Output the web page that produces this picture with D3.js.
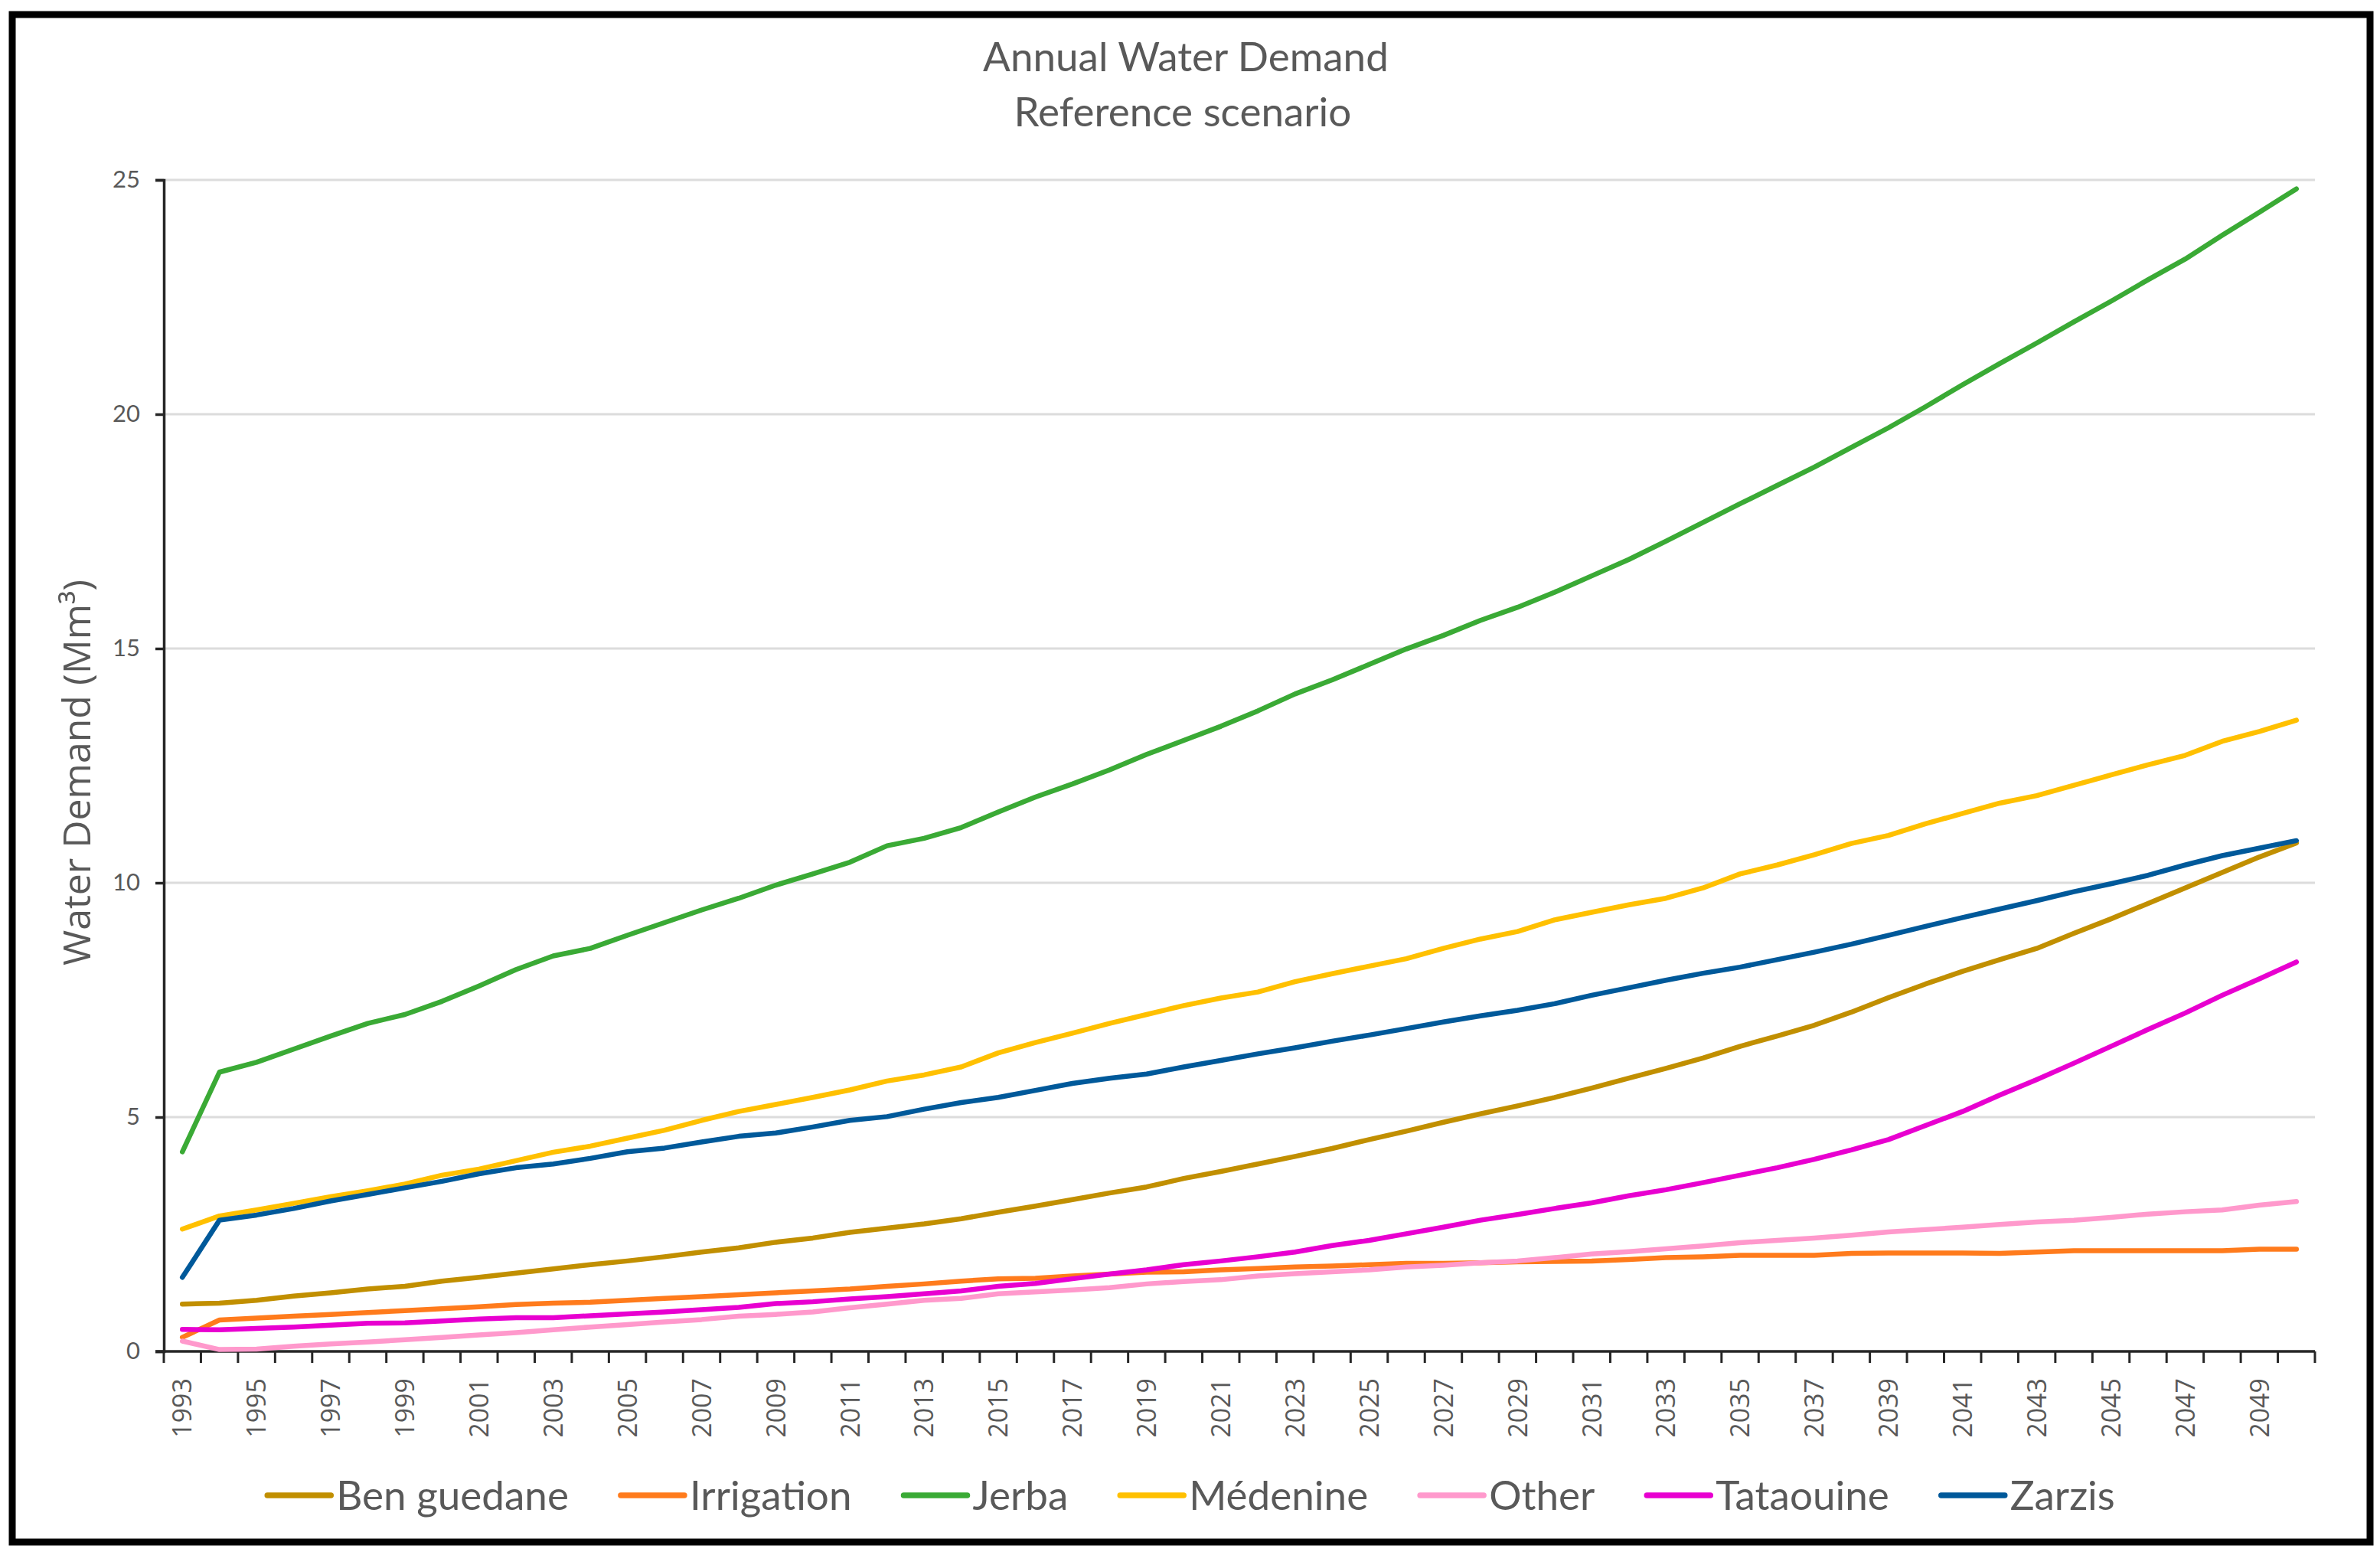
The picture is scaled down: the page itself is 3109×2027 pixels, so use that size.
<!DOCTYPE html>
<html>
<head>
<meta charset="utf-8">
<script src="https://cdn.jsdelivr.net/npm/d3@7"></script>
<style>
  html, body { margin: 0; padding: 0; background: #ffffff; }
  svg { display: block; }
</style>
</head>
<body>
<script>
// ---------------- DATA ----------------
const years = [1993,1994,1995,1996,1997,1998,1999,2000,2001,2002,
  2003,2004,2005,2006,2007,2008,2009,2010,2011,2012,
  2013,2014,2015,2016,2017,2018,2019,2020,2021,2022,
  2023,2024,2025,2026,2027,2028,2029,2030,2031,2032,
  2033,2034,2035,2036,2037,2038,2039,2040,2041,2042,
  2043,2044,2045,2046,2047,2048,2049,2050];

const seriesNames = ["Ben guedane","Irrigation","Jerba","Médenine","Other","Tataouine","Zarzis"];
const seriesColors = ["#C18F00","#FF7B1C","#3AAA35","#FFC000","#FF99CC","#E800D0","#00599A"];

const benGuedane = [1.01,1.03,1.09,1.18,1.25,1.33,1.39,1.50,1.58,1.67,
  1.76,1.85,1.93,2.02,2.12,2.21,2.33,2.42,2.54,2.63,
  2.72,2.83,2.97,3.10,3.24,3.38,3.51,3.69,3.84,4.00,
  4.16,4.33,4.52,4.70,4.89,5.07,5.24,5.42,5.62,5.83,
  6.04,6.26,6.51,6.73,6.96,7.24,7.55,7.84,8.11,8.36,
  8.60,8.92,9.23,9.56,9.89,10.22,10.55,10.85];
const irrigation = [0.30,0.67,0.71,0.75,0.79,0.83,0.87,0.91,0.95,1.00,
  1.03,1.05,1.09,1.13,1.17,1.21,1.25,1.29,1.33,1.39,
  1.44,1.50,1.55,1.56,1.61,1.65,1.69,1.70,1.74,1.77,
  1.80,1.82,1.85,1.88,1.88,1.89,1.91,1.92,1.93,1.96,
  2.00,2.02,2.05,2.05,2.05,2.09,2.10,2.10,2.10,2.09,
  2.12,2.15,2.15,2.15,2.15,2.15,2.18,2.18];
const jerba = [4.26,5.96,6.17,6.45,6.73,7.00,7.19,7.47,7.80,8.15,
  8.44,8.60,8.88,9.15,9.42,9.67,9.95,10.19,10.44,10.79,
  10.95,11.18,11.51,11.83,12.11,12.41,12.74,13.04,13.34,13.67,
  14.03,14.33,14.66,14.99,15.28,15.60,15.88,16.20,16.55,16.90,
  17.29,17.69,18.09,18.48,18.87,19.29,19.71,20.16,20.63,21.08,
  21.52,21.97,22.41,22.87,23.31,23.82,24.31,24.81];
const medenine = [2.61,2.89,3.02,3.16,3.30,3.43,3.57,3.76,3.89,4.07,
  4.25,4.38,4.55,4.72,4.93,5.12,5.27,5.42,5.58,5.77,
  5.90,6.07,6.37,6.59,6.79,7.00,7.19,7.38,7.54,7.67,
  7.89,8.06,8.22,8.38,8.60,8.80,8.96,9.21,9.37,9.53,
  9.67,9.89,10.19,10.38,10.60,10.84,11.01,11.26,11.48,11.70,
  11.86,12.08,12.30,12.52,12.72,13.02,13.23,13.47];
const other = [0.22,0.04,0.05,0.11,0.16,0.20,0.25,0.30,0.35,0.40,
  0.46,0.52,0.57,0.63,0.68,0.75,0.79,0.84,0.93,1.01,
  1.09,1.13,1.23,1.27,1.31,1.36,1.44,1.49,1.53,1.61,
  1.66,1.70,1.74,1.80,1.84,1.89,1.93,2.00,2.08,2.13,
  2.19,2.25,2.32,2.37,2.42,2.48,2.55,2.60,2.65,2.71,
  2.76,2.80,2.86,2.93,2.98,3.02,3.12,3.20];
const tataouine = [0.47,0.46,0.49,0.52,0.56,0.60,0.61,0.65,0.69,0.72,
  0.72,0.76,0.80,0.84,0.89,0.94,1.02,1.06,1.12,1.17,
  1.23,1.29,1.39,1.45,1.55,1.65,1.74,1.85,1.93,2.02,
  2.12,2.26,2.37,2.51,2.65,2.80,2.92,3.05,3.17,3.32,
  3.45,3.60,3.76,3.92,4.10,4.30,4.52,4.82,5.12,5.47,
  5.80,6.15,6.51,6.87,7.22,7.60,7.95,8.31];
const zarzis = [1.58,2.80,2.91,3.05,3.21,3.35,3.49,3.63,3.79,3.92,
  4.00,4.12,4.26,4.34,4.47,4.59,4.66,4.79,4.93,5.01,
  5.17,5.31,5.42,5.57,5.72,5.83,5.92,6.07,6.21,6.35,
  6.48,6.62,6.75,6.89,7.03,7.16,7.28,7.42,7.60,7.76,
  7.92,8.07,8.20,8.36,8.52,8.69,8.88,9.07,9.26,9.44,
  9.62,9.81,9.98,10.16,10.38,10.58,10.74,10.90];

const yTicks = [0,5,10,15,20,25];
const titleLines = ["Annual Water Demand","Reference scenario"];
const yTitle = "Water Demand (Mm³)";

const seriesValues = [benGuedane, irrigation, jerba, medenine, other, tataouine, zarzis];

// ---------------- LAYOUT ----------------
const W = 3109, H = 2027;
const plot = {left: 214, right: 3024, top: 235, bottom: 1765};
const textGrey = "#595959";
const font = "Lato, 'Open Sans', sans-serif";
const font2 = "'Open Sans', 'DejaVu Sans', sans-serif";

const svg = d3.select("body").append("svg")
  .attr("width", W).attr("height", H)
  .attr("viewBox", `0 0 ${W} ${H}`);

svg.append("rect").attr("x", 0).attr("y", 0).attr("width", W).attr("height", H).attr("fill", "#fff");

// outer frame
svg.append("rect")
  .attr("x", 16).attr("y", 19).attr("width", 3080).attr("height", 1995)
  .attr("fill", "none").attr("stroke", "#000").attr("stroke-width", 9);

// scales
const x = d3.scaleBand().domain(years).range([plot.left, plot.right]).padding(0);
const y = d3.scaleLinear().domain([0, 25]).range([plot.bottom, plot.top]);
const cx = d => x(d) + x.bandwidth() / 2;

// title
svg.append("text")
  .attr("x", 1549).attr("y", 93)
  .attr("text-anchor", "middle")
  .attr("font-family", font).attr("font-size", 53)
  .attr("fill", textGrey)
  .text(titleLines[0]);
svg.append("text")
  .attr("x", 1545).attr("y", 165)
  .attr("text-anchor", "middle")
  .attr("font-family", font).attr("font-size", 53)
  .attr("fill", textGrey)
  .text(titleLines[1]);

// gridlines
svg.append("g").selectAll("line").data(yTicks.filter(t => t > 0)).join("line")
  .attr("x1", plot.left).attr("x2", plot.right)
  .attr("y1", d => y(d)).attr("y2", d => y(d))
  .attr("stroke", "#dcdcdc").attr("stroke-width", 3);

// y axis
const yAxis = svg.append("g")
  .attr("transform", `translate(${plot.left},0)`)
  .call(d3.axisLeft(y).tickValues(yTicks).tickSize(11).tickPadding(20).tickFormat(d3.format("d")));
yAxis.select(".domain").attr("stroke", "#262626").attr("stroke-width", 3.5);
yAxis.selectAll(".tick line").attr("stroke", "#262626").attr("stroke-width", 3.5);
yAxis.selectAll(".tick text")
  .attr("font-family", font).attr("font-size", 31).attr("fill", textGrey);

// y title
svg.append("text")
  .attr("transform", "translate(118,1009) rotate(-90)")
  .attr("text-anchor", "middle")
  .attr("font-family", font2).attr("font-size", 50)
  .attr("fill", textGrey)
  .text(yTitle);

// x axis
const xAxisG = svg.append("g");
xAxisG.append("line")
  .attr("x1", plot.left - 11).attr("x2", plot.right)
  .attr("y1", plot.bottom).attr("y2", plot.bottom)
  .attr("stroke", "#262626").attr("stroke-width", 3.5);
const boundaries = years.map(d => x(d)).concat([x(years[years.length - 1]) + x.bandwidth()]);
xAxisG.selectAll("line.tick").data(boundaries).join("line")
  .attr("class", "tick")
  .attr("x1", d => d).attr("x2", d => d)
  .attr("y1", plot.bottom).attr("y2", plot.bottom + 15)
  .attr("stroke", "#262626").attr("stroke-width", 3);
xAxisG.selectAll("text").data(years.filter((d, i) => i % 2 === 0)).join("text")
  .attr("transform", d => `translate(${cx(d)},${plot.bottom + 35}) rotate(-90)`)
  .attr("text-anchor", "end")
  .attr("dy", "0.36em")
  .attr("font-family", font2).attr("font-size", 34)
  .attr("fill", textGrey)
  .text(d => d);

// lines
const line = d3.line()
  .x((d, i) => cx(years[i]))
  .y(d => y(d));
svg.append("g").selectAll("path").data(seriesValues).join("path")
  .attr("d", d => line(d))
  .attr("fill", "none")
  .attr("stroke", (d, i) => seriesColors[i])
  .attr("stroke-width", 6.5)
  .attr("stroke-linejoin", "round")
  .attr("stroke-linecap", "round");

// legend
const legend = svg.append("g");
const items = legend.selectAll("g").data(seriesNames).join("g");
items.append("line")
  .attr("x1", 0).attr("x2", 83).attr("y1", 0).attr("y2", 0)
  .attr("stroke", (d, i) => seriesColors[i])
  .attr("stroke-width", 7.5).attr("stroke-linecap", "round");
items.append("text")
  .attr("x", 90).attr("y", 19)
  .attr("font-family", font).attr("font-size", 53)
  .attr("fill", textGrey)
  .text(d => d);
let widths = [];
items.each(function () {
  widths.push(d3.select(this).select("text").node().getComputedTextLength());
});
const gapBetween = 68;
let total = 0;
widths.forEach((w, i) => { total += 90 + w + (i < widths.length - 1 ? gapBetween : 0); });
let cursor = 1556 - total / 2;
items.each(function (d, i) {
  d3.select(this).attr("transform", `translate(${cursor},1953)`);
  cursor += 90 + widths[i] + gapBetween;
});
</script>
</body>
</html>
